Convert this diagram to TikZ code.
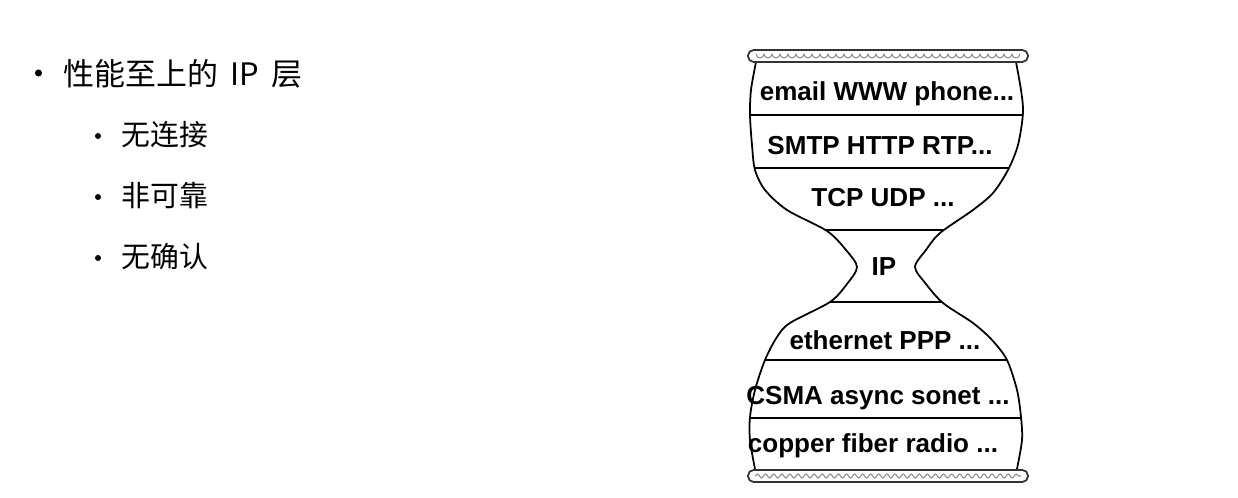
\documentclass[tikz,border=0pt]{standalone}
\usepackage{fontspec}
\newfontfamily\cjk{Noto Sans CJK SC}
\newfontfamily\glassfont{Liberation Sans}
\usetikzlibrary{decorations.pathmorphing}

\tikzset{
  layer/.style={font=\glassfont\bfseries\fontsize{7.4}{9}\selectfont,inner sep=0pt},
  item/.style={font=\cjk\fontsize{8.2}{10}\selectfont,anchor=west,inner sep=0pt},
  dot/.style={circle,fill=black,inner sep=0pt,minimum size=#1},
  bar/.style={draw=black!80,line width=0.5pt,rounded corners=1.6pt},
}

\def\leftside{(756,62) (751,90) (750,115) (752,145) (755,170) (765,190) (787,210)
  (827,231) (846,250) (857,267) (847,284) (830,302) (790,323) (777,337) (765,360)
  (755,390) (750,417) (750,440) (755,469)}
\def\rightside{(1017,469) (1022,440) (1021,417) (1017,390) (1007,360) (992,340)
  (973,323) (943,303) (926,284) (915,267) (926,250) (940,233) (973,210) (993,193)
  (1008,170) (1018,145) (1023,113) (1021,90) (1016,62)}

\begin{document}
\begin{tikzpicture}[x=0.01cm,y=-0.01cm]
  \useasboundingbox (0,0) rectangle (1238,498);

  % bullet list
  \node[dot=2pt] (b0) at (38.5,73) {};
  \node[item,font=\cjk\fontsize{8.8}{10}\selectfont] (head) at (63,74)
    {性能至上的\hspace{3.5pt}IP\hspace{3.5pt}层};
  \foreach \t [count=\i] in {无连接,非可靠,无确认} {
    \node[dot=1.7pt] (b\i) at (98,{75+61*\i}) {};
    \node[item] (s\i) at (121,{74+61*\i}) {\t};
  }

  % hourglass outline
  \draw[line width=0.5pt] plot[smooth] coordinates {\leftside};
  \draw[line width=0.5pt] plot[smooth] coordinates {\rightside};
  \begin{scope}
    \clip plot[smooth] coordinates {\leftside} -- plot[smooth] coordinates {\rightside} -- cycle;
    \foreach \y in {115,168,230,302,360,418}
      \draw[line width=0.5pt] (740,\y) -- (1035,\y);
  \end{scope}

  % top and bottom bars
  \draw[bar,fill=white] (748,50) rectangle (1028,62);
  \foreach \i in {0,...,32}
    \draw[black!45,line width=0.3pt] (756+8*\i,54) arc[start angle=180,end angle=360,radius=1.13pt];
  \draw[bar,fill=white] (748,470) rectangle (1028,482);
  \draw[black!45,line width=0.3pt,decorate,decoration={snake,segment length=2.3pt,amplitude=0.55pt}]
    (755,476) -- (1021,476);

  % layers
  \node[layer] (app) at (887,94) {email WWW phone...};
  \node[layer] (proto) at (880,146) {SMTP HTTP RTP...};
  \node[layer] (transp) at (883,198) {TCP UDP ...};
  \node[layer] (ip) at (884,267) {IP};
  \node[layer] (link) at (885,340) {ethernet PPP ...};
  \node[layer] (mac) at (878,398) {CSMA async sonet ...};
  \node[layer] (phys) at (873,446) {copper fiber radio ...};
\end{tikzpicture}
\end{document}
